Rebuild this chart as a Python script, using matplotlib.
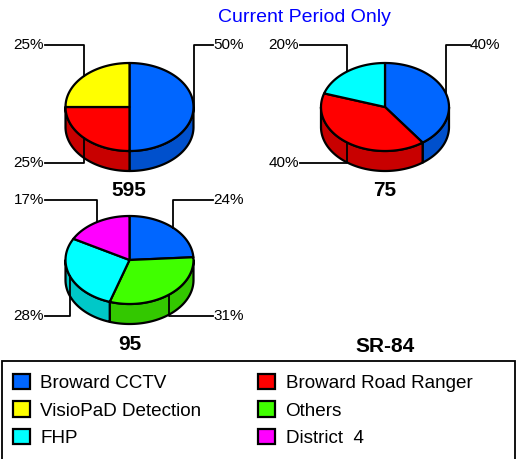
#!/usr/bin/env python3

import numpy as np
import matplotlib
matplotlib.use('Agg')
import matplotlib.pyplot as plt
from matplotlib.patches import Patch, Polygon, Rectangle

plt.rcParams['font.family'] = ['Liberation Sans', 'DejaVu Sans']

title = 'Current Period Only'
categories = ['Broward CCTV', 'VisioPaD Detection', 'FHP',
	'Broward Road Ranger', 'Others', 'District  4']
pie_names = ['595', '75', '95', 'SR-84']

# every pie starts at 12 o'clock and goes clockwise
cats_595 = ['Broward CCTV', 'Broward Road Ranger', 'VisioPaD Detection']
vals_595 = [50, 25, 25]
cats_75 = ['Broward CCTV', 'Broward Road Ranger', 'FHP']
vals_75 = [40, 40, 20]
cats_95 = ['Broward CCTV', 'Others', 'FHP', 'District  4']
vals_95 = [24, 31, 28, 17]

top_color = {
	'Broward CCTV': '#0066ff',
	'Broward Road Ranger': '#ff0000',
	'VisioPaD Detection': '#ffff00',
	'Others': '#40ff00',
	'FHP': '#00ffff',
	'District  4': '#ff00ff',
}
side_color = {
	'Broward CCTV': '#0050cc',
	'Broward Road Ranger': '#c80000',
	'VisioPaD Detection': '#c8c800',
	'Others': '#33c800',
	'FHP': '#00c8c8',
	'District  4': '#c800c8',
}

RX = 64.0
RY = 44.0
DEPTH = 20.0
LW = 1.6

def ellipse_pts(cx, cy, a0, a1) :
	t = np.radians(np.linspace(a0, a1, max(2, int(abs(a1 - a0)) + 2)))
	return np.column_stack([cx + RX * np.sin(t), cy - RY * np.cos(t)])

def draw_pie(ax, cx, cy, cats, vals, y_up, y_down, left_x, right_x) :
	edges = np.concatenate([[0], np.cumsum(vals)]) * 360.0 / sum(vals)

	# side wall, only the front half is visible
	for i, cat in enumerate(cats) :
		a0 = max(edges[i], 90.0)
		a1 = min(edges[i + 1], 270.0)
		if a0 >= a1 :
			continue
		rim = ellipse_pts(cx, cy, a0, a1)
		low = rim[::-1] + [0, DEPTH]
		ax.add_patch(Polygon(np.vstack([rim, low]), closed=True,
			fc=side_color[cat], ec='black', lw=LW, joinstyle='round'))

	for i, cat in enumerate(cats) :
		pts = np.vstack([[[cx, cy]], ellipse_pts(cx, cy, edges[i], edges[i + 1])])
		ax.add_patch(Polygon(pts, closed=True,
			fc=top_color[cat], ec='black', lw=LW, joinstyle='round'))

	# leader lines with an elbow above the middle of each slice
	for i, v in enumerate(vals) :
		mid = np.radians((edges[i] + edges[i + 1]) / 2.0)
		px = cx + RX * np.sin(mid)
		py = cy - RY * np.cos(mid)
		ly = y_up if np.cos(mid) > 0 else y_down
		if np.sin(mid) > 0 :
			ax.plot([px, px, right_x], [py, ly, ly], color='black', lw=1.3)
			ax.text(right_x, ly, '%d%%' % v, ha='left', va='center', fontsize=11)
		else :
			ax.plot([px, px, left_x], [py, ly, ly], color='black', lw=1.3)
			ax.text(left_x - 1, ly, '%d%%' % v, ha='right', va='center', fontsize=11)

fig = plt.figure(figsize=(5.19, 4.59), dpi=100)
ax = fig.add_axes([0, 0, 1, 1])
ax.set_xlim(0, 519)
ax.set_ylim(459, 0)
ax.axis('off')

ax.text(304.5, 18, title, color='#0000ff', ha='center', va='center', fontsize=14)

draw_pie(ax, 129.5, 107, cats_595, vals_595, 45, 163, 45, 213)
draw_pie(ax, 385, 107, cats_75, vals_75, 45, 163, 300, 470)
draw_pie(ax, 129.5, 260, cats_95, vals_95, 200, 316, 45, 213)

name_pos = [(128.5, 190), (385, 190), (129.5, 345), (385, 346)]
for name, (x, y) in zip(pie_names, name_pos) :
	ax.text(x, y, name, ha='center', va='center', fontsize=15, fontweight='bold')

ax.add_patch(Rectangle((2, 361), 513, 110, fc='white', ec='black', lw=1.3, zorder=3))

handles = [Patch(fc=top_color[c], ec='black', lw=LW) for c in categories]
leg = ax.legend(handles, categories, ncol=2, frameon=False, fontsize=13.6,
	loc='upper left', bbox_to_anchor=(13, 374), bbox_transform=ax.transData,
	borderaxespad=0, borderpad=0, handlelength=0.89, handleheight=0.86,
	handletextpad=0.56, columnspacing=3.0, labelspacing=0.49)
leg.set_zorder(4)

fig.savefig('out.png', dpi=100)
